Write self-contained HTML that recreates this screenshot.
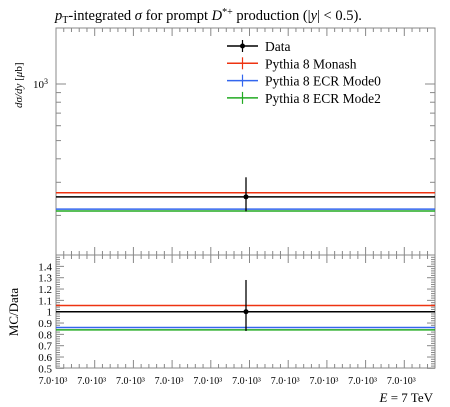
<!DOCTYPE html>
<html><head><meta charset="utf-8">
<style>
html,body{margin:0;padding:0;background:#fff;}
svg{display:block;font-family:"Liberation Serif",serif;}
</style></head>
<body>
<svg id="chart" width="450" height="407" viewBox="0 0 450 407" xmlns="http://www.w3.org/2000/svg">
<text x="55" y="20" font-size="14.5"><tspan font-style="italic">p</tspan><tspan font-size="10" dy="3">T</tspan><tspan dy="-3">-integrated </tspan><tspan font-style="italic">σ</tspan> for prompt <tspan font-style="italic">D</tspan><tspan font-size="10" dy="-5">*+</tspan><tspan dy="5"> production (|</tspan><tspan font-style="italic">y</tspan>| &lt; 0.5).</text>
<g id="main"></g>
<g id="ratio"></g>
<text transform="translate(22,108) rotate(-90)" font-size="11"><tspan font-style="italic">dσ/dy</tspan> [<tspan font-style="italic">μ</tspan>b]</text>
<text transform="translate(18,312) rotate(-90)" text-anchor="middle" font-size="13">MC/Data</text>
<text x="433" y="402" text-anchor="end" font-size="13"><tspan font-style="italic">E</tspan> = 7 TeV</text>
</svg>
<script>
const seriesNames=["Data","Pythia 8 Monash","Pythia 8 ECR Mode0","Pythia 8 ECR Mode2"];
const seriesColors=["#000","#ee3311","#3366ee","#22aa22"];
const mainValues=[251,264,216,211];
const dataErrLow=[210];
const dataErrHigh=[319];
const ratioValues=[1.0,1.055,0.86,0.84];
const ratioErrLow=[0.83];
const ratioErrHigh=[1.28];
const ratioTicks=[0.5,0.6,0.7,0.8,0.9,1,1.1,1.2,1.3,1.4];
const xTickLabels=["7.0·10³","7.0·10³","7.0·10³","7.0·10³","7.0·10³","7.0·10³","7.0·10³","7.0·10³","7.0·10³","7.0·10³"];

const NS="http://www.w3.org/2000/svg";
const L=56,R=435,T=28,MB=255,RB=368,DX=246;
function ym(v){return 84-(Math.log10(v)-3)*188;}
function yr(v){return 311.7-(v-1)*113.3;}
function mk(p,tag,a){const e=document.createElementNS(NS,tag);for(const k in a)e.setAttribute(k,a[k]);p.appendChild(e);return e;}
const main=document.getElementById('main'),ratio=document.getElementById('ratio');

let f=mk(main,'rect',{x:L,y:T,width:R-L,height:MB-T,fill:'none',stroke:'#888','stroke-width':1});

f=mk(ratio,'rect',{x:L,y:MB,width:R-L,height:RB-MB,fill:'none',stroke:'#888','stroke-width':1});


for(let k=0;k<10;k++){
  const x=L+38.7*k;
  [[T,1],[MB,-1],[MB,1],[RB,-1]].forEach(([y,d])=>{
    if(k>0){const t=mk(main,'line',{x1:x,x2:x,y1:y,y2:y+d*8,stroke:'#888'});}
    for(let m=1;m<5;m++){const xm=x+7.74*m;if(xm<R){const t=mk(main,'line',{x1:xm,x2:xm,y1:y,y2:y+d*4,stroke:'#888'});}}
  });
  const lb=mk(ratio,'text',{x:x-3,y:384,'text-anchor':'middle','font-size':'10'});
  lb.textContent=xTickLabels[k];
  
}
for(let v=200;v<=2000;v+=(v<1000?100:1000)){
  const y=ym(v);if(y<T)continue;
  const len=(v===1000)?10:5;
  [[L,1],[R,-1]].forEach(([x,d])=>{const t=mk(main,'line',{x1:x,x2:x+d*len,y1:y,y2:y,stroke:'#888'});});
}
let yl=mk(main,'text',{x:48,y:ym(1000)+4,'text-anchor':'end','font-size':'11'});
yl.innerHTML='10<tspan font-size="8" dy="-4">3</tspan>';

for(let i=0;i<=50;i++){
  const v=0.5+i*0.02;const y=yr(v);if(y<MB+1)continue;
  const major=Math.abs(v*10-Math.round(v*10))<1e-6;
  [[L,1],[R,-1]].forEach(([x,d])=>{const t=mk(ratio,'line',{x1:x,x2:x+d*(major?8:4),y1:y,y2:y,stroke:'#888'});});
}
ratioTicks.forEach(v=>{const t=mk(ratio,'text',{x:52,y:yr(v)+4,'text-anchor':'end','font-size':'11'});t.textContent=String(v);});

for(let i=3;i>=0;i--){
  const l=mk(main,'line',{x1:L,x2:R,y1:ym(mainValues[i]),y2:ym(mainValues[i]),stroke:seriesColors[i],'stroke-width':1.5});
  
  const r=mk(ratio,'line',{x1:L,x2:R,y1:yr(ratioValues[i]),y2:yr(ratioValues[i]),stroke:seriesColors[i],'stroke-width':1.5});
  
}
let e=mk(main,'line',{x1:DX,x2:DX,y1:ym(dataErrHigh[0]),y2:ym(dataErrLow[0]),stroke:'#000','stroke-width':1.3});

e=mk(main,'circle',{cx:DX,cy:ym(mainValues[0]),r:2.5,fill:'#000'});

e=mk(ratio,'line',{x1:DX,x2:DX,y1:yr(ratioErrHigh[0]),y2:yr(ratioErrLow[0]),stroke:'#000','stroke-width':1.3});

e=mk(ratio,'circle',{cx:DX,cy:yr(ratioValues[0]),r:2.5,fill:'#000'});


seriesNames.forEach((n,i)=>{
  const y=46+17.3*i;
  const g=mk(main,'g',{});
  
  mk(g,'line',{x1:227,x2:258,y1:y,y2:y,stroke:seriesColors[i],'stroke-width':1.5});
  mk(g,'line',{x1:242.5,x2:242.5,y1:y-6,y2:y+6,stroke:seriesColors[i],'stroke-width':1.2});
  if(i===0)mk(g,'circle',{cx:242.5,cy:y,r:2.5,fill:'#000'});
  const t=mk(g,'text',{x:265,y:y+5,'font-size':'13.5'});t.textContent=n;
});
</script>
</body></html>
